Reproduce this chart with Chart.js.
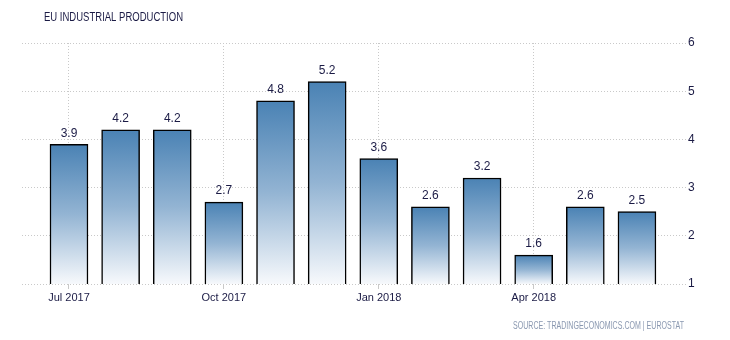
<!DOCTYPE html>
<html>
<head>
<meta charset="utf-8">
<script src="https://cdn.jsdelivr.net/npm/chart.js@4"></script>
<style>
  html, body { margin: 0; padding: 0; background: #fff; }
  #wrap { width: 730px; height: 340px; position: relative; }
</style>
</head>
<body>
<div id="wrap"><canvas id="chart"></canvas></div>
<script>
var months = ['Jul 2017', 'Aug 2017', 'Sep 2017', 'Oct 2017', 'Nov 2017', 'Dec 2017',
              'Jan 2018', 'Feb 2018', 'Mar 2018', 'Apr 2018', 'May 2018', 'Jun 2018'];
var production = [3.9, 4.2, 4.2, 2.7, 4.8, 5.2, 3.6, 2.6, 3.2, 1.6, 2.6, 2.5];
var shownMonths = [0, 3, 6, 9];
var yTicks = [1, 2, 3, 4, 5, 6];
var titleText = 'EU INDUSTRIAL PRODUCTION';
var sourceText = 'SOURCE: TRADINGECONOMICS.COM | EUROSTAT';

var ink = '#1b1b45';
var plain = '"Liberation Sans", Arial, sans-serif';

// squeezed text, the original uses a narrow face
function narrowText(c, text, x, y, size, width) {
    c.save();
    c.font = size + 'px ' + plain;
    var w = c.measureText(text).width;
    c.translate(x, y);
    c.scale(width / w, 1);
    c.fillText(text, 0, 0);
    c.restore();
}

// labels over the bars + title and source
var textPlugin = {
    id: 'texts',
    afterDatasetsDraw: function(chart) {
        var c = chart.ctx;
        var meta = chart.getDatasetMeta(0);
        c.save();
        c.fillStyle = ink;
        c.font = '12px ' + plain;
        c.textAlign = 'center';
        c.textBaseline = 'bottom';
        meta.data.forEach(function(bar, i) {
            c.fillText(production[i].toFixed(1), bar.x, bar.y - 5);
        });
        c.textAlign = 'left';
        c.textBaseline = 'alphabetic';
        narrowText(c, titleText, 44, 21, 12, 139);
        c.fillStyle = '#8a98b0';
        narrowText(c, sourceText, 513, 329, 10, 171);
        c.restore();
    }
};

function barFill(context) {
    var chart = context.chart;
    if (!chart.chartArea || !context.raw) return '#4682b4';
    var ys = chart.scales.y;
    var top = ys.getPixelForValue(context.raw.y);
    var g = chart.ctx.createLinearGradient(0, top, 0, ys.bottom);
    g.addColorStop(0, '#4a82b4');
    g.addColorStop(0.5, '#93b4d3');
    g.addColorStop(1, '#f7f9fc');
    return g;
}

var ctx = document.getElementById('chart').getContext('2d');
var chart = new Chart(ctx, {
    type: 'bar',
    data: {
        datasets: [{
            label: 'Industrial production',
            data: production.map(function(v, i) { return { x: i, y: v }; }),
            backgroundColor: barFill,
            borderColor: '#000',
            borderWidth: 1.5,
            borderSkipped: false,
            barThickness: 38
        }]
    },
    options: {
        responsive: true,
        maintainAspectRatio: false,
        animation: false,
        layout: { padding: { left: 22, top: 43, right: 0, bottom: 36 } },
        plugins: {
            legend: { display: false },
            tooltip: { enabled: false }
        },
        scales: {
            x: {
                type: 'linear',
                offset: false,
                min: -0.91,
                max: 11.95,
                afterBuildTicks: function(scale) {
                    scale.ticks = shownMonths.map(function(v) { return { value: v }; });
                },
                afterFit: function(scale) { scale.height = 20; },
                ticks: {
                    color: ink,
                    font: { size: 11, family: plain },
                    padding: 2,
                    maxRotation: 0,
                    callback: function(value) { return months[value]; }
                },
                grid: {
                    offset: false,
                    color: '#c9c9c9',
                    lineWidth: 1,
                    tickLength: 5
                },
                border: { display: false, dash: [1, 2] }
            },
            y: {
                position: 'right',
                min: 1,
                max: 6,
                afterBuildTicks: function(scale) {
                    scale.ticks = yTicks.map(function(v) { return { value: v }; });
                },
                afterFit: function(scale) { scale.width = 44; },
                ticks: {
                    color: ink,
                    font: { size: 12, family: plain },
                    padding: 2
                },
                grid: {
                    color: '#c9c9c9',
                    lineWidth: 1,
                    drawTicks: false
                },
                border: { display: false, dash: [1, 2] }
            }
        }
    },
    plugins: [textPlugin]
});
</script>
</body>
</html>
